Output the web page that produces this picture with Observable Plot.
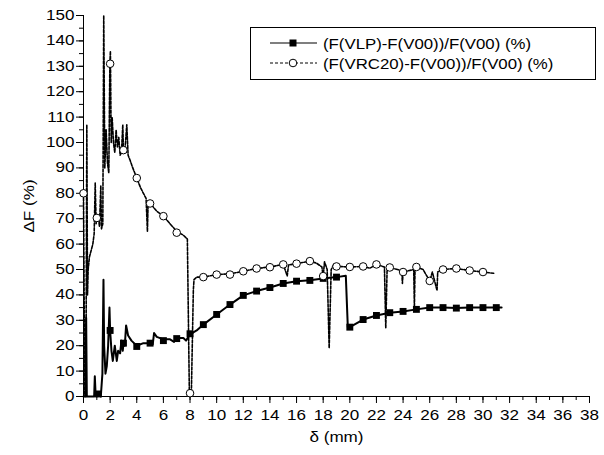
<!DOCTYPE html>
<html><head><meta charset="utf-8">
<script src="https://cdn.jsdelivr.net/npm/d3@7"></script>
<script src="https://cdn.jsdelivr.net/npm/@observablehq/plot@0.6"></script>
<style>
body{margin:0;background:#fff;}
#chart{position:relative;width:604px;height:455px;font-family:"Liberation Sans",Arial,sans-serif;}
#legend{position:absolute;left:0;top:0;}
</style></head><body><div id="chart"></div>
<script>
// series 1: (F(VLP)-F(V00))/F(V00) (%)  [delta (mm), dF (%)]
const vlp = [[0,0],[0.15,0],[0.2,31],[0.25,0],[0.8,0],[0.85,8],[0.9,2],[1.0,0],[1.1,1],[1.3,0],[1.42,9],[1.5,46],[1.55,20],[1.65,9],[1.75,12],[1.85,20],[1.95,35],[2.0,26],[2.1,18],[2.2,14],[2.35,20],[2.5,14],[2.6,18],[2.75,17],[2.85,22],[2.95,18],[3.0,21],[3.1,20],[3.2,28],[3.35,24],[3.6,22],[4.0,20],[4.5,21],[5.0,21],[5.2,20.5],[5.3,25],[5.5,23.5],[6.0,22.5],[6.5,22.5],[6.8,21.5],[7.0,23],[7.5,23],[7.7,22],[8.0,24.5],[8.5,26],[9,28.3],[10,32.3],[11,36.2],[12,39.8],[13,41.5],[14,42.9],[15,44.5],[16,45.4],[17,45.8],[18,46.5],[19,47],[19.7,47.5],[19.85,27.3],[20,27.3],[21,30.3],[22,31.9],[23,33],[24,33.5],[25,34.3],[26,35],[27,35],[28,34.8],[29,35],[30,35],[31,35],[31.4,35]];
const vlpMarks = [[1.1,1],[2,26],[3,21],[4,19.7],[5,21],[6,22],[7,22.8],[8,24.7],[9,28.3],[10,32.3],[11,36.2],[12,39.8],[13,41.5],[14,42.9],[15,44.5],[16,45.4],[17,45.7],[18,46.5],[19,47],[20,27.3],[21,30.3],[22,31.9],[23,33],[24,33.5],[25,34.3],[26,35],[27,35],[28,34.8],[29,35],[30,35],[31,35]];
// series 2: (F(VRC20)-F(V00))/F(V00) (%)
const vrc = [[0,80],[0.06,30],[0.1,0],[0.18,0],[0.25,107],[0.3,40],[0.35,50],[0.45,55],[0.55,57],[0.7,60],[0.8,64],[0.88,84],[0.95,68],[1.0,70.5],[1.1,71],[1.2,67],[1.3,83],[1.35,66],[1.45,68],[1.52,150],[1.6,90],[1.7,105],[1.8,92],[1.9,88],[1.98,131],[2.02,136],[2.08,100],[2.15,110],[2.25,100],[2.35,96],[2.45,105],[2.55,98],[2.65,102],[2.75,95],[2.85,96],[2.95,107],[3.0,97],[3.1,96],[3.25,107],[3.35,95],[3.5,93],[3.7,90],[4.0,86],[4.3,82],[4.5,80],[4.7,78],[4.8,65],[4.85,76],[5.0,76],[5.5,73],[6.0,71],[6.5,68],[7.0,65],[7.5,63.5],[7.8,62],[7.95,1.3],[8.1,1.3],[8.25,42],[8.3,46],[8.5,47],[9,47],[10,48],[11,48.3],[12,49.3],[13,50.4],[14,51],[15,52],[15.3,47.5],[15.4,51.8],[16,52.3],[17,53.3],[17.5,52.5],[17.9,51],[18,47.4],[18.1,53],[18.3,50],[18.45,19],[18.6,50],[18.8,52],[19,51.2],[20,51],[21,51.2],[21.5,50.5],[22,52],[22.6,51],[22.7,27],[22.8,50],[23,50.8],[23.9,49.5],[23.95,44.5],[24.0,49],[24.8,50],[24.85,35],[24.9,51],[25,51],[25.5,50],[26,45.5],[26.2,49],[26.55,41.7],[26.6,49],[27,50],[28,50.4],[29,49.6],[30,49],[30.8,48.5]];
const vrcMarks = [[0,80],[1,70.3],[2,131],[3,97],[4,86],[5,76],[6,71],[7,64.5],[8,1.3],[9,47],[10,48],[11,48],[12,49.3],[13,50.4],[14,50.9],[15,52],[16,52.3],[17,53.3],[18,47.4],[19,51.2],[20,51],[21,51.2],[22,52],[23,50.8],[24,49],[25,51],[26,45.5],[27,50],[28,50.4],[29,49.6],[30,49]];
const xMajor = d3.range(0, 39, 2);
const xMinor = d3.range(0, 39, 1);
const yMajor = d3.range(0, 151, 10);
const yMinor = d3.range(0, 151, 5);
const seriesNames = ["(F(VLP)-F(V00))/F(V00) (%)", "(F(VRC20)-F(V00))/F(V00) (%)"];
const xTitle = "δ (mm)", yTitle = "ΔF (%)";

const plot = Plot.plot({
  width: 604, height: 455,
  marginLeft: 83, marginRight: 15, marginTop: 15, marginBottom: 59,
  style: {fontFamily: "'Liberation Sans', Arial, sans-serif", fontSize: "14px", color: "#000", background: "#fff", overflow: "visible"},
  x: {domain: [0, 38], label: null},
  y: {domain: [0, 150], label: null},
  marks: [
    Plot.axisX(xMinor, {tickSize: 4, tickFormat: () => "", label: null}),
    Plot.axisX(xMajor, {tickSize: 7, tickPadding: 7, tickFormat: d => d, label: null}),
    Plot.axisY(yMinor, {tickSize: 4, tickFormat: () => "", label: null}),
    Plot.axisY(yMajor, {tickSize: 7, tickPadding: 2, tickFormat: d => d, label: null}),
    Plot.ruleX([0], {stroke: "#000"}),
    Plot.ruleY([0], {stroke: "#000"}),
    Plot.text([xTitle], {frameAnchor: "bottom", dy: 45, fontSize: 14, text: d => d}),
    Plot.text([yTitle], {frameAnchor: "left", dx: -54, rotate: -90, textAnchor: "middle", lineAnchor: "middle", fontSize: 14, text: d => d}),
    Plot.line(vlp, {x: d => d[0], y: d => d[1], stroke: "#000", strokeWidth: 2}),
    Plot.line(vrc, {x: d => d[0], y: d => d[1], stroke: "#000", strokeWidth: 1.6, strokeDasharray: "3,1.5"}),
    Plot.dot(vlpMarks, {x: d => d[0], y: d => d[1], symbol: "square", r: 3.9, fill: "#000"}),
    Plot.dot(vrcMarks, {x: d => d[0], y: d => d[1], symbol: "circle", r: 3.8, fill: "#fff", stroke: "#000", strokeWidth: 1})
  ]
});
// horizontal stretch of glyphs as in the reference (along the text direction)
plot.querySelectorAll("text").forEach(t => {
  const tr = t.getAttribute("transform") || "";
  t.setAttribute("transform", tr + " scale(1.22,1)");
});
const chart = document.getElementById("chart");
chart.appendChild(plot);

// legend (inside plot area, upper right)
const ns = "http://www.w3.org/2000/svg";
const lg = document.createElementNS(ns, "svg");
lg.setAttribute("id", "legend"); lg.setAttribute("width", 604); lg.setAttribute("height", 455);
lg.innerHTML = `
<rect x="250.5" y="27.5" width="345" height="52" fill="#fff" stroke="#000" stroke-width="1"/>
<line x1="270" x2="317" y1="43" y2="43" stroke="#000" stroke-width="1.2"/>
<rect x="289.5" y="39.5" width="7" height="7" fill="#000"/>
<line x1="270" x2="317" y1="63" y2="63" stroke="#000" stroke-width="1" stroke-dasharray="3,2"/>
<circle cx="293" cy="63" r="3.8" fill="#fff" stroke="#000"/>
<g font-family="'Liberation Sans', Arial, sans-serif" font-size="14">
<text transform="translate(323,48.5) scale(1.2,1)">${seriesNames[0]}</text>
<text transform="translate(323,68.5) scale(1.2,1)">${seriesNames[1]}</text>
</g>`;
chart.appendChild(lg);
</script>
</body></html>
